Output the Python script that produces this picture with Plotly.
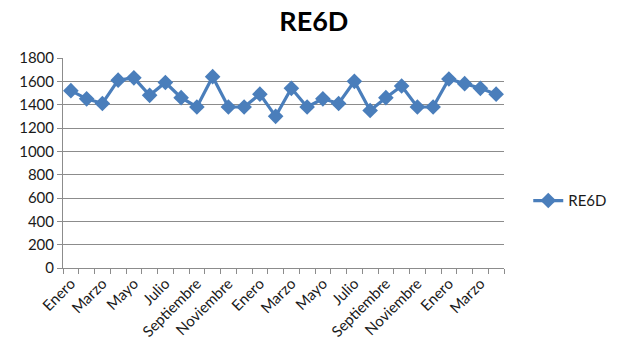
import plotly.graph_objects as go

# Monthly series: Jan of year 1 through Apr of year 3
months = ["Enero", "Febrero", "Marzo", "Abril", "Mayo", "Junio", "Julio",
          "Agosto", "Septiembre", "Octubre", "Noviembre", "Diciembre"]
labels = months + months + months[:4]
values = [1520, 1450, 1410, 1610, 1630, 1480, 1590, 1460, 1380, 1640,
          1380, 1380, 1490, 1300, 1540, 1380, 1450, 1410, 1600, 1350,
          1460, 1560, 1380, 1380, 1620, 1580, 1540, 1490]
y_ticks = list(range(0, 1801, 200))

idx = list(range(len(values)))
FONT = "Lato, Carlito, Calibri, sans-serif"
BLUE = "#4A7EBB"
GRID = "#8C8C8C"

fig = go.Figure()
fig.add_trace(go.Scatter(
    x=idx, y=values, name="RE6D", mode="lines+markers",
    line=dict(color=BLUE, width=3.2),
    marker=dict(symbol="diamond", size=12, color=BLUE),
))

fig.update_layout(
    width=634, height=352,
    margin=dict(l=63, r=130, t=58, b=82),
    paper_bgcolor="white", plot_bgcolor="white",
    font=dict(family=FONT, size=15, color="#1a1a1a"),
    title=dict(text="<b>RE6D</b>", x=0.495, xanchor="center", y=0.94, yanchor="middle",
               font=dict(family=FONT, size=27, color="black")),
    showlegend=True,
    legend=dict(x=1.055, y=0.32, xanchor="left", yanchor="middle",
                font=dict(family=FONT, size=15, color="#1a1a1a"),
                bgcolor="rgba(0,0,0,0)"),
    xaxis=dict(
        range=[-0.5, len(values) - 0.5],
        tickmode="array",
        tickvals=idx[::2], ticktext=labels[::2],
        tickangle=-45, ticks="", showgrid=False, zeroline=False,
        showline=True, linecolor=GRID, linewidth=1,
        minor=dict(tickmode="array",
                   tickvals=[i - 0.5 for i in range(len(values) + 1)],
                   ticks="outside", ticklen=5, tickcolor=GRID, showgrid=False),
    ),
    yaxis=dict(
        range=[0, 1800], tickmode="array", tickvals=y_ticks,
        ticks="outside", ticklen=5, tickcolor=GRID,
        showgrid=True, gridcolor=GRID, gridwidth=1, zeroline=False,
        showline=True, linecolor=GRID, linewidth=1,
    ),
)

fig.write_html("out.html")
